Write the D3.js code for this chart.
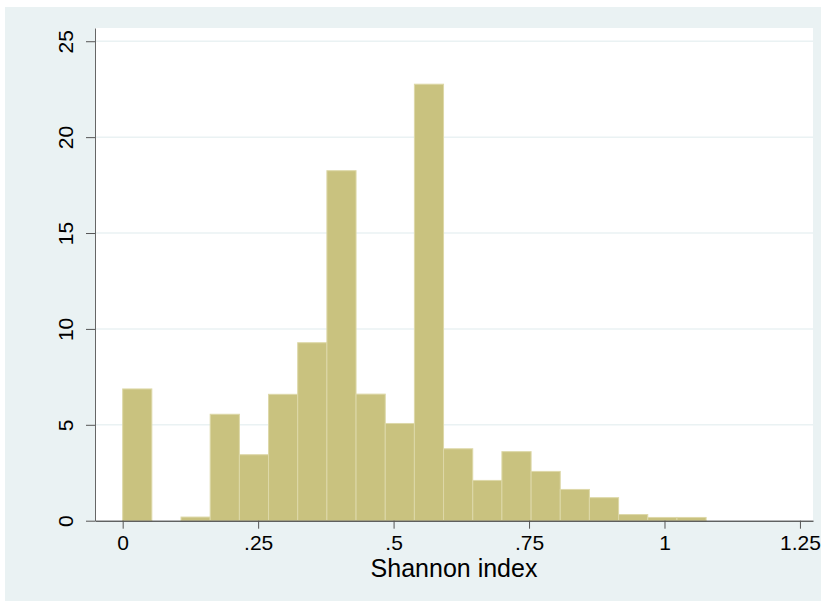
<!DOCTYPE html>
<html><head><meta charset="utf-8">
<script src="https://cdn.jsdelivr.net/npm/d3@7"></script>
<style>body{margin:0;background:#fff}svg{display:block}text{font-family:"Liberation Sans",Arial,sans-serif;fill:#000}</style>
</head><body><svg id="c" width="821" height="601"></svg>
<script>
const binEdges = [0, 0.0538, 0.1077, 0.1615, 0.2154, 0.2692, 0.3230, 0.3769, 0.4307, 0.4846, 0.5384, 0.5922, 0.6461, 0.6999, 0.7538, 0.8076, 0.8614, 0.9153, 0.9691, 1.0230, 1.0768];
const percents = [6.87, 0, 0.19, 5.55, 3.44, 6.59, 9.28, 18.25, 6.6, 5.07, 22.76, 3.75, 2.1, 3.6, 2.57, 1.63, 1.2, 0.32, 0.17, 0.17];
const xTicks = [0, 0.25, 0.5, 0.75, 1, 1.25];
const xTickLabels = ["0", ".25", ".5", ".75", "1", "1.25"];
const yTicks = [0, 5, 10, 15, 20, 25];
const xTitle = "Shannon index";

const svg = d3.select("#c");
svg.append("rect").attr("x",5).attr("y",7).attr("width",816).attr("height",594).attr("fill","#eaf2f3");
const L=95, R=813, T=28, B=520.7;
svg.append("rect").attr("x",L).attr("y",T).attr("width",R-L).attr("height",B-T).attr("fill","#fff");

const x = d3.scaleLinear().domain([-0.0511, 1.2741]).range([L, R]);
const y = d3.scaleLinear().domain([0, 25.69]).range([B, T]);

// gridlines
svg.append("g").selectAll("line").data(yTicks.filter(d=>d>0)).join("line")
  .attr("x1",L).attr("x2",R).attr("y1",d=>y(d)).attr("y2",d=>y(d))
  .attr("stroke","#eaf2f3").attr("stroke-width",1.5);

// bars
const bins = percents.map((p,i)=>({x0:binEdges[i], x1:binEdges[i+1], p}));
svg.append("g").selectAll("rect").data(bins.filter(d=>d.p>0)).join("rect")
  .attr("x",d=>x(d.x0)).attr("width",d=>x(d.x1)-x(d.x0))
  .attr("y",d=>y(d.p)).attr("height",d=>B-y(d.p))
  .attr("fill","#c9c27f").attr("stroke","#ddd8a8").attr("stroke-width",1);

// axes
const xa = svg.append("g").attr("transform",`translate(0,${B})`)
  .call(d3.axisBottom(x).tickValues(xTicks).tickFormat((d,i)=>xTickLabels[i]).tickSize(8).tickPadding(6).tickSizeOuter(0));
xa.select(".domain").attr("stroke","#222");
xa.selectAll(".tick line").attr("stroke","#555");
xa.selectAll(".tick text").attr("font-size",21).attr("font-family","Liberation Sans, Arial, sans-serif").attr("fill","#000");

const ya = svg.append("g").attr("transform",`translate(${L},0)`)
  .call(d3.axisLeft(y).tickValues(yTicks).tickSize(9).tickPadding(0).tickSizeOuter(0));
ya.select(".domain").attr("stroke","#666");
ya.selectAll(".tick line").attr("stroke","#555");
ya.selectAll(".tick text").remove();
ya.selectAll(".tick").append("text")
  .attr("transform","translate(-22,0) rotate(-90)")
  .attr("text-anchor","middle")
  .attr("font-size",21).attr("font-family","Liberation Sans, Arial, sans-serif").attr("fill","#000")
  .text(d=>d);

svg.append("text").attr("x",(L+R)/2).attr("y",577).attr("text-anchor","middle")
  .attr("font-size",25).text(xTitle);
</script></body></html>
